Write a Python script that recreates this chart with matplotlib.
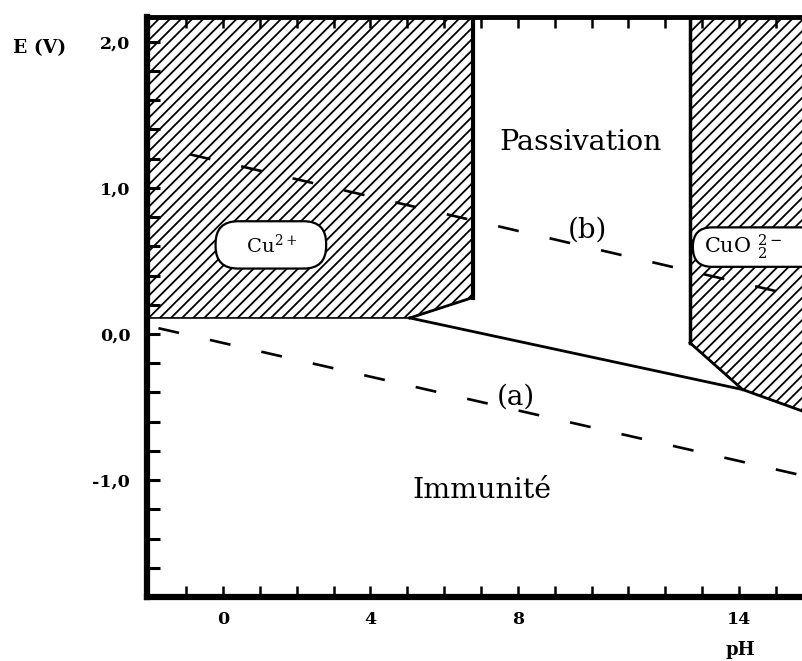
import matplotlib
matplotlib.use("Agg")
import matplotlib.pyplot as plt
from matplotlib.patches import FancyBboxPatch

plt.rcParams["font.family"] = "DejaVu Serif"
plt.rcParams["mathtext.fontset"] = "dejavuserif"
plt.rcParams["hatch.linewidth"] = 1.3

# Cu - H2O potential / pH diagram
cu2_ph = [-3.0, 6.78, 6.78, 5.07, -3.0]
cu2_e = [2.5, 2.5, 0.25, 0.11, 0.11]

cuo2_ph = [12.67, 12.67, 14.1, 15.75, 15.75]
cuo2_e = [2.5, -0.06, -0.38, -0.53, 2.5]

# Cu / oxide boundary
oxide_ph = [5.07, 14.1, 15.75]
oxide_e = [0.11, -0.38, -0.53]

# water stability lines (a) H2 and (b) O2
h2_ph = [-1.75, 15.75]
h2_e = [0.04, -0.97]
o2_ph = [-0.9, 15.75]
o2_e = [1.23, 0.25]

xtick_vals = [0, 4, 8, 14]
xtick_labels = ["0", "4", "8", "14"]
ytick_vals = [-1.0, 0.0, 1.0, 2.0]
ytick_labels = ["-1,0", "0,0", "1,0", "2,0"]

fig = plt.figure(figsize=(8.02, 6.61), dpi=100)
ax = fig.add_axes([0.1833, 0.0968, 0.8167, 0.8775])
ax.set_xlim(-2.06, 15.71)
ax.set_ylim(-1.80, 2.17)

# hatched corrosion domains
ax.fill(cu2_ph, cu2_e, facecolor="white", edgecolor="black", hatch="///", lw=1.2)
ax.fill(cuo2_ph, cuo2_e, facecolor="white", edgecolor="black", hatch="///", lw=1.2)
ax.plot([cu2_ph[1], cu2_ph[2]], [cu2_e[1], cu2_e[2]], color="black", lw=3)
ax.plot(cu2_ph[2:4], cu2_e[2:4], color="black", lw=2)
ax.plot(cuo2_ph[0:2], cuo2_e[0:2], color="black", lw=2.5)
ax.plot(cuo2_ph[1:3], cuo2_e[1:3], color="black", lw=2)

ax.plot(oxide_ph, oxide_e, color="black", lw=2)
ax.plot(h2_ph, h2_e, color="black", lw=1.9, linestyle=(0, (8, 12)))
ax.plot(o2_ph, o2_e, color="black", lw=1.9, linestyle=(0, (8, 12)))

# species labels in rounded boxes
box = dict(boxstyle="round,pad=0.62,rounding_size=1.15", facecolor="white",
           edgecolor="black", lw=1.6)
ax.text(1.30, 0.61, "   Cu$^{2+}$   ", fontsize=14, ha="center", va="center", bbox=box)

pill = FancyBboxPatch((12.75, 0.46), 3.6, 0.27,
                      boxstyle="round,pad=0,rounding_size=0.52",
                      mutation_aspect=0.2525, facecolor="white",
                      edgecolor="black", lw=1.6, zorder=3)
ax.add_patch(pill)
ax.text(13.05, 0.595, "CuO $_{2}^{2-}$", fontsize=15, ha="left", va="center", zorder=4)

ax.text(9.71, 1.31, "Passivation", fontsize=20.5, ha="center", va="center")
ax.text(9.88, 0.71, "(b)", fontsize=20, ha="center", va="center")
ax.text(7.95, -0.43, "(a)", fontsize=20, ha="center", va="center")
ax.text(7.03, -1.07, "Immunité", fontsize=20.5, ha="center", va="center")

# axes frame and ticks
ax.spines["right"].set_visible(False)
ax.spines["left"].set_linewidth(4.5)
ax.spines["bottom"].set_linewidth(4.5)
ax.spines["top"].set_linewidth(3.5)

ax.set_xticks(xtick_vals)
ax.set_xticklabels(xtick_labels, fontweight="bold", fontsize=12.5)
ax.set_xticks(range(-1, 16), minor=True)
ax.set_yticks(ytick_vals)
ax.set_yticklabels(ytick_labels, fontweight="bold", fontsize=12.5)
ax.set_yticks([v / 10 for v in range(-16, 21, 2)], minor=True)

ax.tick_params(axis="both", which="both", direction="in", color="black")
ax.tick_params(axis="y", which="both", length=9, width=2.2, pad=12)
ax.tick_params(axis="x", which="both", length=8, width=1.8, pad=10, top=True)

fig.text(40 / 802, 1 - 48 / 661, "E (V)", fontsize=13.5, fontweight="bold",
         ha="center", va="center")
fig.text(740 / 802, 1 - 650 / 661, "pH", fontsize=13, fontweight="bold",
         ha="center", va="center")

fig.savefig("out.png", dpi=100)
